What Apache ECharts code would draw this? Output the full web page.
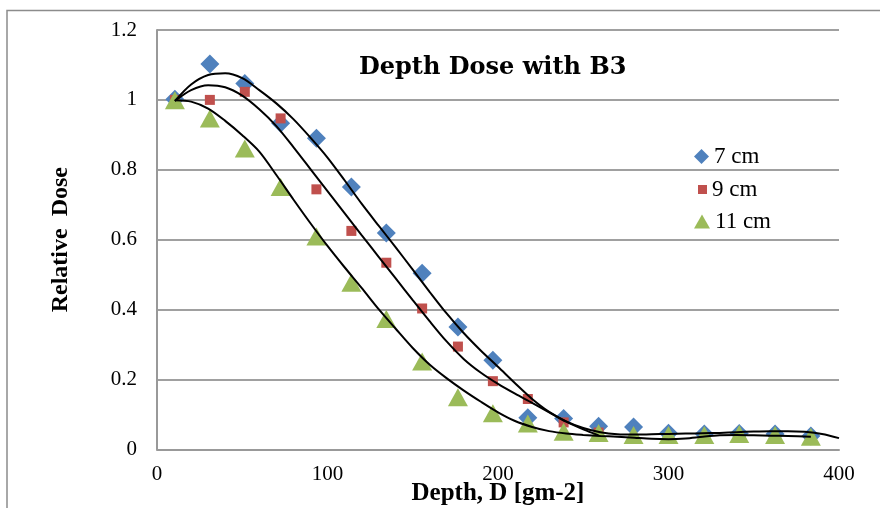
<!DOCTYPE html>
<html>
<head>
<meta charset="utf-8">
<script src="https://cdn.jsdelivr.net/npm/echarts@6/dist/echarts.min.js"></script>
<style>html,body{margin:0;padding:0;background:#fff;}#c{width:880px;height:508px;}</style>
</head>
<body>
<div id="c"></div>
<script>
// ---- data ----
const depth = [10.5, 31, 51.5, 72.5, 93.5, 114, 134.5, 155.5, 176.5, 197, 217.5, 238.5, 259, 279.5, 300, 321, 341.5, 362.5, 383.5];
const dose7 = [1.002, 1.103, 1.047, 0.933, 0.890, 0.751, 0.619, 0.504, 0.350, 0.255, 0.090, 0.088, 0.066, 0.064, 0.046, 0.044, 0.045, 0.044, 0.038];
const dose9 = [1.0, 1.0, 1.023, 0.947, 0.744, 0.625, 0.534, 0.403, 0.294, 0.195, 0.144, 0.077, 0.048];
const dose11 = [0.999, 0.947, 0.861, 0.751, 0.609, 0.477, 0.373, 0.251, 0.149, 0.103, 0.074, 0.050, 0.047, 0.041, 0.041, 0.041, 0.044, 0.041, 0.036];

// trendlines
const trend7X = [10.5, 20, 30, 40, 50, 60, 70, 80, 90, 100, 110, 120, 130, 140, 150, 160, 170, 180, 190, 200, 210, 220, 230, 240, 250, 260, 270, 280, 290, 300, 310, 320, 330, 340, 350, 360, 370, 380, 390, 400];
const trend7Y = [0.997, 1.044, 1.071, 1.076, 1.062, 1.028, 0.990, 0.945, 0.892, 0.835, 0.770, 0.703, 0.640, 0.578, 0.514, 0.450, 0.388, 0.332, 0.282, 0.236, 0.189, 0.144, 0.107, 0.080, 0.061, 0.049, 0.043, 0.042, 0.043, 0.044, 0.045, 0.046, 0.047, 0.049, 0.051, 0.052, 0.052, 0.050, 0.044, 0.032];
const trend9X = [10.5, 20, 30, 40, 50, 60, 70, 80, 90, 100, 110, 120, 130, 140, 150, 160, 170, 180, 190, 200, 210, 220, 230, 240, 250, 259];
const trend9Y = [0.997, 1.028, 1.042, 1.036, 1.012, 0.973, 0.925, 0.865, 0.802, 0.739, 0.676, 0.613, 0.551, 0.489, 0.427, 0.366, 0.308, 0.258, 0.219, 0.187, 0.159, 0.133, 0.106, 0.079, 0.057, 0.040];
const trend11X = [10.5, 20, 30, 40, 50, 60, 70, 80, 90, 100, 110, 120, 130, 140, 150, 160, 170, 180, 190, 200, 210, 220, 230, 240, 250, 260, 270, 280, 290, 300, 310, 320, 330, 340, 350, 360, 370, 383.5];
const trend11Y = [0.999, 0.995, 0.975, 0.940, 0.899, 0.852, 0.785, 0.715, 0.647, 0.582, 0.521, 0.462, 0.401, 0.345, 0.290, 0.242, 0.203, 0.168, 0.136, 0.106, 0.081, 0.064, 0.052, 0.045, 0.041, 0.038, 0.036, 0.033, 0.030, 0.029, 0.031, 0.036, 0.040, 0.041, 0.040, 0.039, 0.038, 0.036];

const xTicks = [0, 100, 200, 300, 400];
const yTicks = [0, 0.2, 0.4, 0.6, 0.8, 1, 1.2];

const zip = (a, b) => b.map((v, i) => [a[i], v]);
const serif = 'Liberation Serif';
const legendText = {fontFamily: serif, fontSize: 23, color: '#000'};

const chart = echarts.init(document.getElementById('c'), null, {renderer: 'canvas'});
chart.setOption({
  animation: false,
  backgroundColor: '#fff',
  title: {
    text: 'Depth Dose with B3',
    left: 354, top: 51,
    textStyle: {fontFamily: 'DejaVu Serif', fontWeight: 'bold', fontSize: 24, color: '#000'}
  },
  graphic: [{
    type: 'rect', silent: true, z: -1,
    shape: {x: 7, y: 10.5, width: 900, height: 600},
    style: {fill: 'none', stroke: '#8c8c8c', lineWidth: 1.5}
  }],
  legend: [
    {data: ['7 cm'], icon: 'diamond', itemWidth: 15, itemHeight: 15, padding: 0, left: 694, top: 145, textStyle: legendText},
    {data: ['9 cm'], icon: 'rect', itemWidth: 9, itemHeight: 9, padding: 0, left: 698, top: 178, textStyle: legendText},
    {data: ['11 cm'], icon: 'triangle', itemWidth: 16, itemHeight: 14, padding: 0, left: 694, top: 210, textStyle: legendText}
  ],
  grid: {left: 157, right: 41, top: 30, bottom: 58.7, containLabel: false, outerBoundsMode: 'none'},
  xAxis: {
    type: 'value', min: xTicks[0], max: xTicks[xTicks.length - 1], interval: 100,
    name: 'Depth, D [gm-2]', nameLocation: 'middle', nameGap: 32, nameMoveOverlap: false,
    nameTextStyle: {fontFamily: serif, fontWeight: 'bold', fontSize: 25, color: '#000'},
    axisLine: {show: true, lineStyle: {color: '#999', width: 2}},
    axisTick: {show: false},
    axisLabel: {margin: 15, fontFamily: serif, fontSize: 21, color: '#000'},
    splitLine: {show: false}
  },
  yAxis: {
    type: 'value', min: yTicks[0], max: yTicks[yTicks.length - 1], interval: 0.2,
    name: 'Relative  Dose', nameLocation: 'middle', nameGap: 84, nameMoveOverlap: false,
    nameTextStyle: {fontFamily: serif, fontWeight: 'bold', fontSize: 24, color: '#000'},
    axisLine: {show: true, lineStyle: {color: '#999', width: 2}},
    axisTick: {show: false},
    axisLabel: {margin: 20, fontFamily: serif, fontSize: 21, color: '#000'},
    splitLine: {show: true, lineStyle: {color: '#a0a0a0', width: 2}}
  },
  series: [
    {name: '7 cm', type: 'scatter', symbol: 'diamond', symbolSize: 19, itemStyle: {color: '#4F81BD', opacity: 1}, data: zip(depth, dose7), z: 2},
    {name: '9 cm', type: 'scatter', symbol: 'rect', symbolSize: 10, itemStyle: {color: '#C0504D', opacity: 1}, data: zip(depth, dose9), z: 2},
    {name: '11 cm', type: 'scatter', symbol: 'triangle', symbolSize: [20, 18], itemStyle: {color: '#9BBB59', opacity: 1}, data: zip(depth, dose11), z: 2},
    {name: 'trend 7', type: 'line', smooth: 0.3, showSymbol: false, lineStyle: {color: '#000', width: 2}, data: zip(trend7X, trend7Y), z: 3},
    {name: 'trend 9', type: 'line', smooth: 0.3, showSymbol: false, lineStyle: {color: '#000', width: 2}, data: zip(trend9X, trend9Y), z: 3},
    {name: 'trend 11', type: 'line', smooth: 0.3, showSymbol: false, lineStyle: {color: '#000', width: 2}, data: zip(trend11X, trend11Y), z: 3}
  ]
});
</script>
</body>
</html>
